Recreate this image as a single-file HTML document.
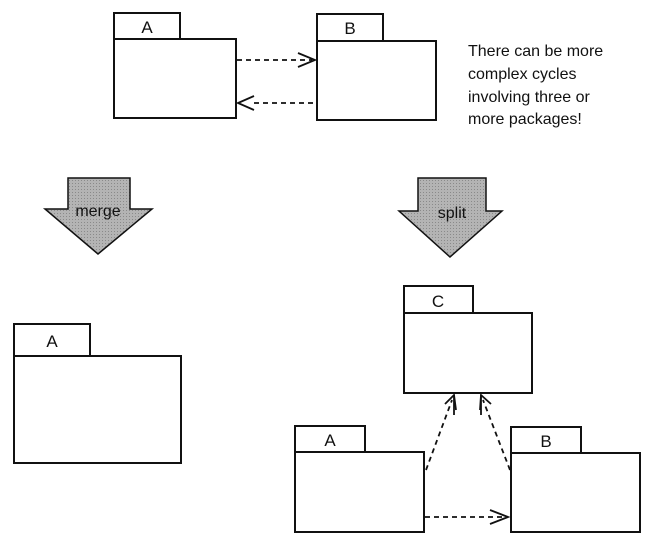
<!DOCTYPE html>
<html><head><style>body{margin:0;background:#fff}svg{display:block}text{font-family:"Liberation Sans",sans-serif;fill:#111}</style></head><body>
<svg width="650" height="548" viewBox="0 0 650 548" xmlns="http://www.w3.org/2000/svg">
<defs><pattern id="g" width="3" height="3" patternUnits="userSpaceOnUse"><rect width="3" height="3" fill="#b4b4b4"/><rect width="1" height="1" fill="#8a8a8a"/></pattern></defs>
<g fill="#fff" stroke="#111" stroke-width="2">
<rect x="114" y="13" width="66" height="26"/><rect x="114" y="39" width="122" height="79"/>
<rect x="317" y="14" width="66" height="27"/><rect x="317" y="41" width="119" height="79"/>
<rect x="14" y="324" width="76" height="32"/><rect x="14" y="356" width="167" height="107"/>
<rect x="404" y="286" width="69" height="27"/><rect x="404" y="313" width="128" height="80"/>
<rect x="295" y="426" width="70" height="26"/><rect x="295" y="452" width="129" height="80"/>
<rect x="511" y="427" width="70" height="26"/><rect x="511" y="453" width="129" height="79"/>
</g>
<g font-size="17" text-anchor="middle">
<text x="147" y="33">A</text><text x="350" y="34">B</text><text x="52" y="347">A</text>
<text x="438" y="307">C</text><text x="330" y="446">A</text><text x="546" y="447">B</text>
</g>
<g font-size="16"><text x="468" y="56">There can be more</text><text x="468" y="79">complex cycles</text><text x="468" y="102">involving three or</text><text x="468" y="124">more packages!</text></g>
<g stroke="#111" stroke-width="1.8" fill="none">
<g stroke-dasharray="5,4"><line x1="237" y1="60" x2="312" y2="60"/><line x1="254" y1="103" x2="317" y2="103"/>
<line x1="425" y1="517" x2="505" y2="517"/><line x1="426" y1="470" x2="452" y2="400"/><line x1="510" y1="470" x2="483" y2="400"/></g>
<polyline points="298,53 315,60 298,67"/><polyline points="254,96 238,103 254,110"/>
<polyline points="490,510 508,517 490,524"/>
<polyline points="445,404 454,395 456,410"/><polyline points="480,410 481,395 491,404"/>
<line x1="454" y1="395" x2="454" y2="415"/><line x1="481" y1="395" x2="481" y2="415"/>
</g>
<g fill="url(#g)" stroke="#111" stroke-width="1.5">
<polygon points="68,178 130,178 130,209 152,209 98,254 45,209 68,209"/>
<polygon points="418,178 486,178 486,211 502,211 450,257 399,211 418,211"/>
</g>
<g font-size="16" text-anchor="middle"><text x="98" y="216">merge</text><text x="452" y="218">split</text></g>
</svg></body></html>
